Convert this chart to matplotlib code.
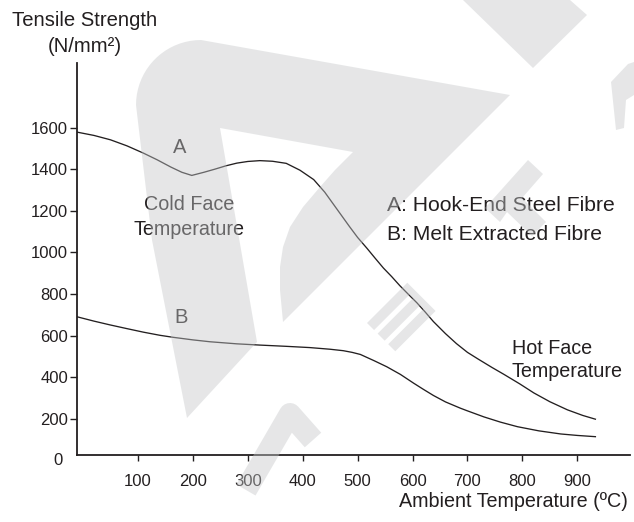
import numpy as np
import matplotlib
matplotlib.use("Agg")
import matplotlib.pyplot as plt
from matplotlib.patches import Polygon
from matplotlib.lines import Line2D
from matplotlib.transforms import Affine2D, offset_copy

# ---------------- data ----------------
temp_a = [-11, 20, 50, 80, 110, 135, 160, 180, 198, 220, 240, 260, 280, 300, 322,
          345, 370, 395, 420, 440, 455, 470, 485, 500, 517, 532, 547, 562, 577, 592,
          608, 623, 638, 660, 680, 700, 720, 745, 766, 795, 821, 850, 882, 910, 933]
strength_a = [1578, 1562, 1541, 1512, 1477, 1445, 1410, 1385, 1370, 1385, 1400, 1416, 1429, 1437, 1441,
              1438, 1428, 1395, 1350, 1290, 1235, 1180, 1125, 1072, 1020, 972, 925, 884, 840, 800,
              758, 714, 668, 610, 562, 520, 487, 447, 415, 369, 325, 283, 244, 217, 199]

temp_b = [-11, 20, 49, 80, 110, 140, 165, 200, 231, 280, 322, 370, 413, 450, 474,
          490, 505, 530, 553, 578, 602, 620, 638, 660, 687, 699, 730, 760, 791, 830,
          870, 900, 933]
strength_b = [691, 670, 652, 634, 617, 602, 592, 580, 571, 561, 555, 549, 543, 535, 528,
              520, 510, 480, 451, 414, 372, 342, 313, 282, 252, 240, 210, 185, 163, 143,
              128, 121, 115]

x_ticks = [100, 200, 300, 400, 500, 600, 700, 800, 900]
x_tick_labels = ["100", "200", "300", "400", "500", "600", "700", "800", "900"]
y_ticks = [200, 400, 600, 800, 1000, 1200, 1400, 1600]
y_tick_labels = ["200", "400", "600", "800", "1000", "1200", "1400", "1600"]

y_title = "Tensile Strength"
y_unit = "(N/mm\u00b2)"
x_title = "Ambient Temperature (\u00baC)"
legend_a = "A: Hook-End Steel Fibre"
legend_b = "B: Melt Extracted Fibre"

# ---------------- figure ----------------
W, H = 634, 522
plt.rcParams['font.family'] = ['Liberation Sans', 'DejaVu Sans']
ink = '#231f20'
fig = plt.figure(figsize=(W / 100, H / 100), dpi=100)
fig.patch.set_facecolor('white')
# pixel transform (y downwards)
PX = Affine2D().scale(1 / W, -1 / H).translate(0, 1) + fig.transFigure

ax = fig.add_axes([77 / W, 1 - 455 / H, (630 - 77) / W, (455 - 63) / H])
ax.set_facecolor('none')
ax.plot(temp_a, strength_a, color=ink, lw=0.95, solid_joinstyle='round')
ax.plot(temp_b, strength_b, color=ink, lw=0.95, solid_joinstyle='round')
ax.set_xlim(-11, 996)
ax.set_ylim(27, 1910)
for s in ['top', 'right']:
    ax.spines[s].set_visible(False)
for s in ['left', 'bottom']:
    ax.spines[s].set_linewidth(1.3)
    ax.spines[s].set_color(ink)
ax.set_xticks(x_ticks)
ax.set_xticklabels(x_tick_labels)
ax.set_yticks(y_ticks)
ax.set_yticklabels(y_tick_labels)
ax.tick_params(axis='x', direction='out', length=4, width=1.0, pad=10,
               labelsize=12, colors=ink)
ax.tick_params(axis='y', direction='out', length=4.7, width=1.0, pad=1.7,
               labelsize=12, colors=ink)
# the "0" label below the axis line
tr0 = offset_copy(ax.get_yaxis_transform(), fig=fig, x=-14, y=0, units='dots')
ax.text(0, 0, "0", transform=tr0, ha='right', va='center', fontsize=12,
        color=ink, clip_on=False)

# ---------------- texts ----------------
def t(x, y, s, size, ha='left'):
    fig.text(x, y, s, transform=PX, fontsize=size, ha=ha, va='baseline', color=ink)

t(85, 26.5, y_title, 14.6, ha='center')
t(85, 52, y_unit, 14.6, ha='center')
t(180, 153, "A", 14.5, ha='center')
t(181, 323, "B", 14.5, ha='center')
t(189, 210, "Cold Face", 14.2, ha='center')
t(189, 235, "Temperature", 14.2, ha='center')
t(387, 211, legend_a, 15.2)
t(387, 240.5, legend_b, 15.2)
t(512, 354, "Hot Face", 14.2)
t(512, 377, "Temperature", 14.2)
t(399, 507, x_title, 14.2)

# ---------------- watermark overlay ----------------
wm = dict(facecolor=(197 / 255, 199 / 255, 201 / 255), alpha=0.43,
          edgecolor='none', transform=PX, zorder=20)

th = np.linspace(np.pi, np.pi / 2, 20)
arc = np.column_stack([201 + 65 * np.cos(th), 105 - 65 * np.sin(th)])
logo = np.vstack([arc,
                  [[510, 95], [283, 322], [280, 290], [280, 267], [283, 247],
                   [290, 227], [303, 207], [320, 187], [335, 170], [353, 152],
                   [220, 128], [257, 342], [187, 418], [152, 240]]])
fig.add_artist(Polygon(logo, closed=True, **wm))
fig.add_artist(Polygon([[463, 0], [570, 0], [587, 15], [533, 68]], closed=True, **wm))
fig.add_artist(Polygon([[611, 82], [628, 64], [634, 62], [634, 95], [626, 100],
                        [624, 128], [616, 130]], closed=True, **wm))
# T-like stroke
fig.add_artist(Polygon([[528, 160], [543, 174], [522, 198], [546, 222], [532, 236],
                        [507, 212], [500, 222], [485, 208]], closed=True, **wm))
# E-like letter
U = np.array([1, -1]) / np.sqrt(2)
V = np.array([1, 1]) / np.sqrt(2)
o = np.array([367, 323])
e_uv = [(0, 0), (57, 0), (57, 40), (0, 40), (0, 30), (50, 30), (50, 25), (0, 25),
        (0, 15), (50, 15), (50, 10), (0, 10)]
e_pts = [o + u * U + v * V for u, v in e_uv]
fig.add_artist(Polygon(e_pts, closed=True, **wm))
# M-like chevron
fig.add_artist(Line2D([246, 290, 313], [490, 414, 440], transform=PX,
                      color=wm['facecolor'], alpha=0.43, lw=22 * 0.72,
                      solid_joinstyle='round', solid_capstyle='butt', zorder=20))

fig.savefig("out.png", dpi=100, facecolor='white')
